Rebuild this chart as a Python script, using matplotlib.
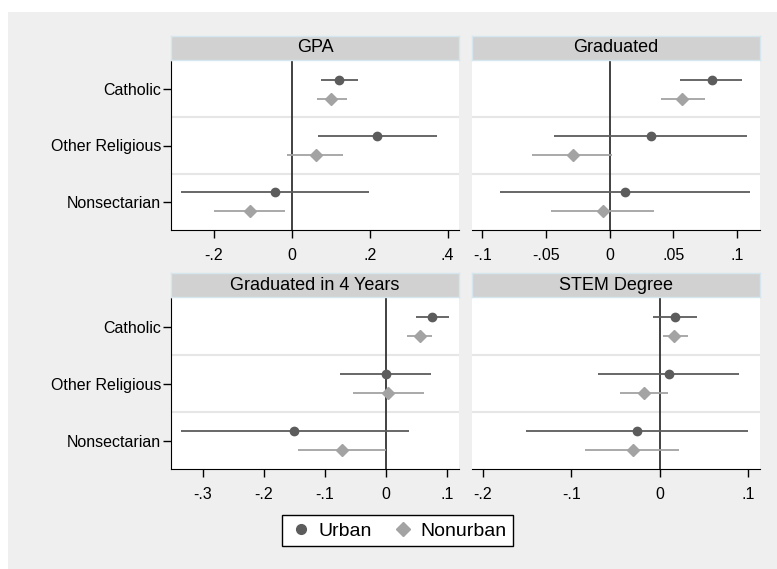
import numpy as np
import matplotlib
matplotlib.use("Agg")
import matplotlib.pyplot as plt
from matplotlib.patches import Rectangle
from matplotlib.lines import Line2D

plt.rcParams['font.family'] = ['Liberation Sans', 'DejaVu Sans']

# Categorias (de arriba hacia abajo)
categories = ["Catholic", "Other Religious", "Nonsectarian"]
groups = ["Urban", "Nonurban"]

# GPA
gpa_urban = [0.122, 0.220, -0.043]
gpa_urban_lo = [0.075, 0.068, -0.284]
gpa_urban_hi = [0.171, 0.372, 0.199]
gpa_nonurban = [0.101, 0.062, -0.107]
gpa_nonurban_lo = [0.064, -0.011, -0.198]
gpa_nonurban_hi = [0.141, 0.132, -0.017]

# Graduated
grad_urban = [0.080, 0.032, 0.012]
grad_urban_lo = [0.055, -0.044, -0.086]
grad_urban_hi = [0.104, 0.108, 0.110]
grad_nonurban = [0.057, -0.029, -0.005]
grad_nonurban_lo = [0.040, -0.061, -0.046]
grad_nonurban_hi = [0.075, 0.002, 0.035]

# Graduated in 4 Years
grad4_urban = [0.076, 0.000, -0.150]
grad4_urban_lo = [0.049, -0.075, -0.336]
grad4_urban_hi = [0.103, 0.074, 0.038]
grad4_nonurban = [0.056, 0.004, -0.071]
grad4_nonurban_lo = [0.035, -0.053, -0.144]
grad4_nonurban_hi = [0.075, 0.063, 0.000]

# STEM Degree
stem_urban = [0.017, 0.010, -0.026]
stem_urban_lo = [-0.008, -0.070, -0.151]
stem_urban_hi = [0.042, 0.089, 0.099]
stem_nonurban = [0.016, -0.018, -0.031]
stem_nonurban_lo = [0.003, -0.045, -0.085]
stem_nonurban_hi = [0.032, 0.009, 0.021]

panels = [
    ("GPA", gpa_urban, gpa_urban_lo, gpa_urban_hi,
     gpa_nonurban, gpa_nonurban_lo, gpa_nonurban_hi,
     (-0.309, 0.429), [-0.2, 0, 0.2, 0.4]),
    ("Graduated", grad_urban, grad_urban_lo, grad_urban_hi,
     grad_nonurban, grad_nonurban_lo, grad_nonurban_hi,
     (-0.108, 0.118), [-0.1, -0.05, 0, 0.05, 0.1]),
    ("Graduated in 4 Years", grad4_urban, grad4_urban_lo, grad4_urban_hi,
     grad4_nonurban, grad4_nonurban_lo, grad4_nonurban_hi,
     (-0.352, 0.120), [-0.3, -0.2, -0.1, 0, 0.1]),
    ("STEM Degree", stem_urban, stem_urban_lo, stem_urban_hi,
     stem_nonurban, stem_nonurban_lo, stem_nonurban_hi,
     (-0.212, 0.113), [-0.2, -0.1, 0, 0.1]),
]

urban_color = "#5c5c5c"
nonurban_color = "#a3a3a3"

W, H = 777, 569
fig = plt.figure(figsize=(W / 100, H / 100), dpi=100)
fig.patch.set_facecolor("white")
fig.patches.append(Rectangle((8 / W, 0), 1 - 8 / W, (H - 12) / H,
                             transform=fig.transFigure, facecolor="#efefef",
                             edgecolor="none", zorder=-5))


def fmt(v):
    if abs(v) < 1e-9:
        return "0"
    s = f"{v:g}"
    return s.replace("0.", ".")


# posiciones en pixeles: (x0, x1, y_top, y_bottom) del area de datos
boxes = [(171, 459, 61, 230), (472.3, 760, 61, 230),
         (171, 459, 298.3, 469), (472.3, 760, 298.3, 469)]
strip_h = 24

ypos = np.arange(len(categories))
off = 0.17

for i, (p, box) in enumerate(zip(panels, boxes)):
    title, u, ulo, uhi, n, nlo, nhi, xlim, ticks = p
    x0, x1, yt, yb = box
    ax = fig.add_axes([x0 / W, (H - yb) / H, (x1 - x0) / W, (yb - yt) / H])
    ax.set_facecolor("white")
    ax.set_xlim(*xlim)
    ax.set_ylim(len(categories) - 0.5, -0.5)

    for s in [0.5, 1.5]:
        ax.axhline(s, color="#e6e6e6", lw=1.5, zorder=1)
    ax.axvline(0, color="#333333", lw=1.3, zorder=2)

    ax.hlines(ypos - off, ulo, uhi, color=urban_color, lw=1.3, zorder=3)
    ax.plot(u, ypos - off, "o", color=urban_color, ms=6, zorder=4)
    ax.hlines(ypos + off, nlo, nhi, color=nonurban_color, lw=1.3, zorder=3)
    ax.plot(n, ypos + off, "D", color=nonurban_color, ms=6.5, zorder=4)

    ax.set_xticks(ticks)
    ax.set_xticklabels([fmt(t) for t in ticks], fontsize=11.5)
    ax.tick_params(axis="x", length=6, width=1, pad=7, color="black")
    for side in ["top", "right"]:
        ax.spines[side].set_visible(False)
    ax.spines["bottom"].set_color("black")
    if i % 2 == 0:
        ax.set_yticks(ypos)
        ax.set_yticklabels(categories, fontsize=11.5)
        ax.tick_params(axis="y", length=6, width=1, pad=1, color="black")
        ax.spines["left"].set_color("black")
    else:
        ax.set_yticks([])
        ax.spines["left"].set_visible(False)

    # cabecera del panel
    sax = fig.add_axes([x0 / W, (H - yt + 1) / H, (x1 - x0) / W, strip_h / H])
    sax.set_facecolor("#d1d1d1")
    sax.set_xticks([])
    sax.set_yticks([])
    for sp in sax.spines.values():
        sp.set_color("#d6e6ee")
        sp.set_linewidth(1)
    sax.text(0.5, 0.5, title, ha="center", va="center", fontsize=13,
             transform=sax.transAxes)

handles = [
    Line2D([], [], marker="o", color=urban_color, ls="none", ms=7),
    Line2D([], [], marker="D", color=nonurban_color, ls="none", ms=7),
]
leg = fig.legend(handles, groups, loc="center", ncol=2,
                 bbox_to_anchor=(397.5 / W, (H - 530.7) / H),
                 fontsize=14, frameon=True, fancybox=False, framealpha=1,
                 edgecolor="black", handletextpad=0.3, columnspacing=1.0,
                 handlelength=1.2, borderpad=0.35)
leg.get_frame().set_linewidth(1)

fig.savefig("out.png", dpi=100, facecolor=fig.get_facecolor())
